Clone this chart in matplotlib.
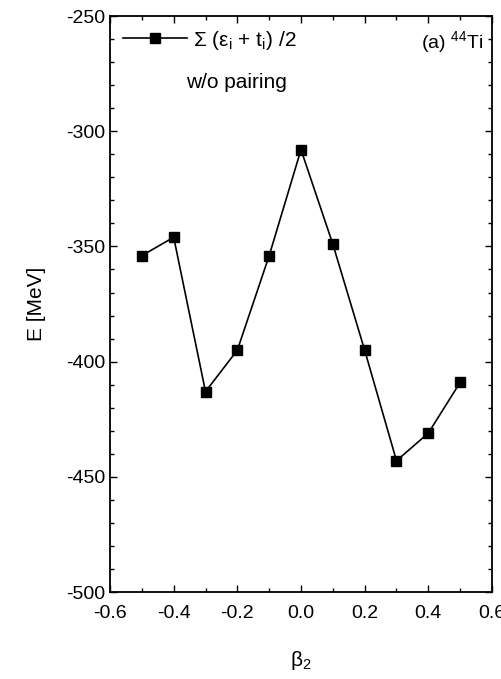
import numpy as np
import matplotlib
matplotlib.use('Agg')
import matplotlib.pyplot as plt
from matplotlib.ticker import MultipleLocator

plt.rcParams['font.family'] = ['Liberation Sans', 'DejaVu Sans']
plt.rcParams['mathtext.fontset'] = 'custom'
plt.rcParams['mathtext.rm'] = 'Liberation Sans'
plt.rcParams['mathtext.it'] = 'Liberation Sans'
plt.rcParams['axes.unicode_minus'] = False

beta2 = [-0.5, -0.4, -0.3, -0.2, -0.1, 0.0, 0.1, 0.2, 0.3, 0.4, 0.5]
energy = [-354, -346, -413, -395, -354, -308, -349, -395, -443, -431, -409]

xticks = [-0.6, -0.4, -0.2, 0.0, 0.2, 0.4, 0.6]
xticklabels = ['-0.6', '-0.4', '-0.2', '0.0', '0.2', '0.4', '0.6']
yticks = [-500, -450, -400, -350, -300, -250]

fig = plt.figure(figsize=(5.01, 6.79), dpi=100)
ax = fig.add_axes([0.2196, 0.128, 0.7624, 0.8484])

ax.plot(beta2, energy, color='black', lw=1.2, marker='s', ms=7,
        label=r'Σ (ε$_\mathregular{i}$ + t$_\mathregular{i}$) /2')

ax.set_xlim(-0.6, 0.6)
ax.set_ylim(-500, -250)
ax.set_xticks(xticks)
ax.set_xticklabels(xticklabels)
ax.set_yticks(yticks)
ax.xaxis.set_minor_locator(MultipleLocator(0.1))
ax.yaxis.set_minor_locator(MultipleLocator(10))
ax.tick_params(which='both', direction='in', top=True, right=True,
               labelsize=14, width=1)
ax.tick_params(axis='x', which='major', pad=9)
ax.tick_params(which='major', length=5)
ax.tick_params(which='minor', length=3)
for s in ax.spines.values():
    s.set_linewidth(1.3)

ax.set_xlabel(r'β$_\mathregular{2}$', fontsize=15, labelpad=20)
ax.set_ylabel('E [MeV]', fontsize=15, labelpad=14)

ax.legend(loc='upper left', frameon=False, fontsize=15, handlelength=3.1,
          handletextpad=0.3, borderaxespad=0.2, bbox_to_anchor=(0.0, 1.0))
ax.text(0.2, 0.885, 'w/o pairing', transform=ax.transAxes, fontsize=15,
        ha='left', va='center')
ax.text(0.976, 0.955, r'(a) $^\mathregular{44}$Ti', transform=ax.transAxes,
        fontsize=14, ha='right', va='center')

fig.savefig('out.png', dpi=100)
